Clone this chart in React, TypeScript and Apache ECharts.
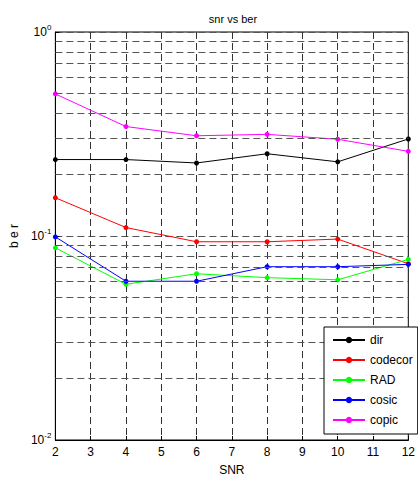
import React, { useEffect, useRef } from "react";
import * as echarts from "echarts";

const snr = [2, 4, 6, 8, 10, 12];
const dir = [0.237, 0.237, 0.228, 0.253, 0.231, 0.299];
const codecor = [0.154, 0.11, 0.0937, 0.0937, 0.0966, 0.0731];
const rad = [0.0875, 0.058, 0.0653, 0.0625, 0.061, 0.0768];
const cosic = [0.099, 0.06, 0.06, 0.0707, 0.0707, 0.0726];
const copic = [0.497, 0.344, 0.31, 0.315, 0.298, 0.26];
const minorGrid = [0.02, 0.03, 0.04, 0.05, 0.06, 0.07, 0.08, 0.09, 0.2, 0.3, 0.4, 0.5, 0.6, 0.7, 0.8, 0.9];

const seriesDefs = [
  { name: "dir", data: dir, color: "#000000" },
  { name: "codecor", data: codecor, color: "#ff0000" },
  { name: "RAD", data: rad, color: "#00ff00" },
  { name: "cosic", data: cosic, color: "#0000ff" },
  { name: "copic", data: copic, color: "#ff00ff" },
];

const FONT = "Liberation Sans";

export default function App() {
  const ref = useRef<HTMLDivElement>(null);
  useEffect(() => {
    document.body.style.margin = "0";
    const chart = echarts.init(ref.current!, null, { renderer: "svg" });
    const gridLine = { type: [7, 4] as any, color: "#555", width: 1 };
    chart.setOption({
      animation: false,
      backgroundColor: "#ffffff",
      textStyle: { fontFamily: FONT },
      title: {
        text: "snr vs ber",
        left: 228,
        textAlign: "center",
        top: 8,
        textStyle: { fontSize: 11, fontWeight: "normal", color: "#000", fontFamily: FONT },
      },
      grid: {
        left: 42,
        top: 32,
        width: 370,
        height: 409,
        show: true,
        borderColor: "#000",
        borderWidth: 1,
        backgroundColor: "transparent",
      },
      legend: {
        orient: "vertical",
        left: 324,
        top: 327,
        width: 93,
        data: seriesDefs.map((s) => s.name),
        backgroundColor: "#ffffff",
        borderColor: "#000",
        borderWidth: 1,
        borderRadius: 0,
        padding: [7, 5, 8, 8],
        itemWidth: 32,
        itemHeight: 8,
        itemGap: 8,
        itemTextGap: 5,
        textStyle: { fontSize: 12, color: "#000", fontFamily: FONT },
        z: 10,
      },
      xAxis: {
        type: "value",
        min: 2,
        max: 12,
        interval: 1,
        name: "SNR",
        nameLocation: "middle",
        nameGap: 24,
        nameTextStyle: { fontSize: 12, color: "#000", fontFamily: FONT },
        axisLine: { lineStyle: { color: "#000", width: 1 } },
        axisTick: { inside: true, length: 4, lineStyle: { color: "#000" } },
        axisLabel: { fontSize: 12, color: "#000", margin: 6, fontFamily: FONT },
        splitLine: { show: true, lineStyle: { type: [7, 4], color: "#333", width: 1 } },
      },
      yAxis: {
        type: "log",
        logBase: 10,
        min: 0.01,
        max: 1,
        name: "b e r",
        nameLocation: "middle",
        nameGap: 28,
        nameTextStyle: { fontSize: 12, color: "#000", fontFamily: FONT },
        axisLine: { lineStyle: { color: "#000", width: 1 } },
        axisTick: { inside: true, length: 4, lineStyle: { color: "#000" } },
        axisLabel: {
          margin: 4,
          fontFamily: FONT,
          formatter: (v: number) => "{b|10}{s|" + Math.round(Math.log10(v)) + "}",
          rich: {
            b: { fontSize: 12, color: "#000", fontFamily: FONT },
            s: { fontSize: 8, color: "#000", fontFamily: FONT, padding: [0, 0, 9, 0] },
          },
        },
        splitLine: { show: true, lineStyle: gridLine },
      },
      series: [
        {
          name: "__grid",
          type: "line",
          data: [],
          silent: true,
          z: 1,
          markLine: {
            silent: true,
            symbol: ["none", "none"],
            label: { show: false },
            lineStyle: gridLine,
            data: minorGrid.map((v) => ({ yAxis: v })),
          },
        },
        ...seriesDefs.map((s) => ({
          name: s.name,
          type: "line",
          z: 3,
          data: snr.map((x, i) => [x, s.data[i]]),
          symbol: "circle",
          symbolSize: 5,
          color: s.color,
          lineStyle: { color: s.color, width: 1 },
          itemStyle: { color: s.color },
        })),
      ],
    });
    return () => chart.dispose();
  }, []);
  return <div ref={ref} style={{ width: 418, height: 481 }} />;
}
